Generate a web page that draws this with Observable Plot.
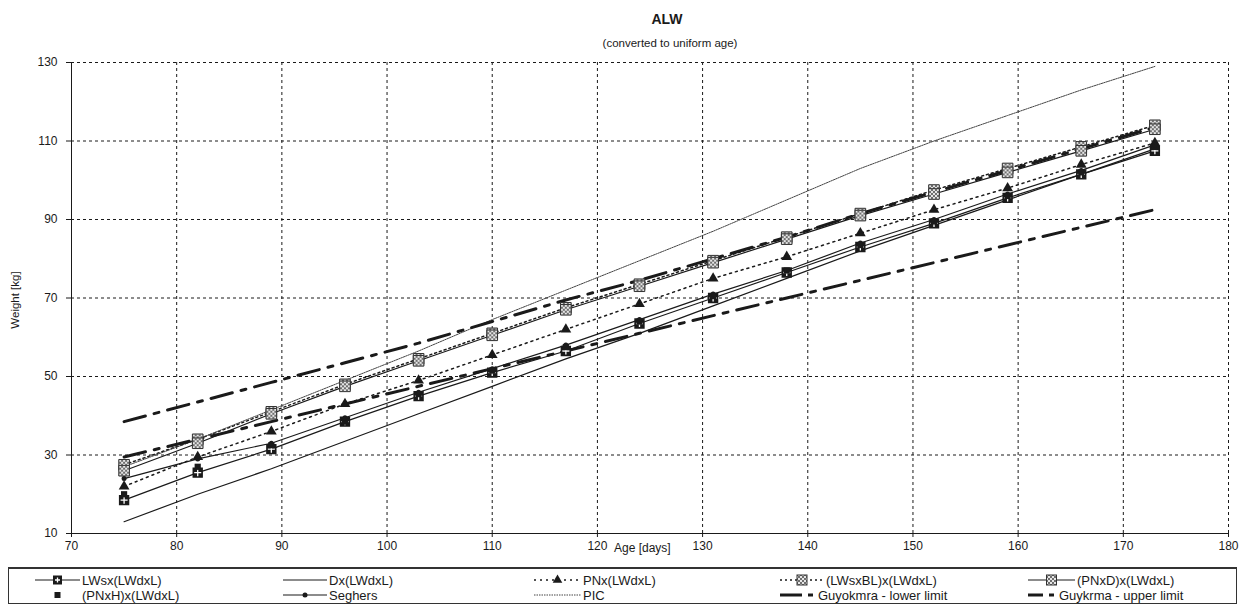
<!DOCTYPE html>
<html><head><meta charset="utf-8">
<script src="https://cdn.jsdelivr.net/npm/d3@7"></script>
<script src="https://cdn.jsdelivr.net/npm/@observablehq/plot@0.6"></script>
<style>
body{margin:0;background:#fff;font-family:"Liberation Sans",Arial,sans-serif;color:#1a1a1a;}
#wrap{position:relative;width:1242px;height:605px;overflow:hidden;background:#fff;}
#chart{position:absolute;left:0;top:0;}
.abs{position:absolute;white-space:nowrap;}
#title{left:667px;top:11px;transform:translateX(-50%);font-weight:bold;font-size:14px;}
#subtitle{left:670px;top:37px;transform:translateX(-50%);font-size:11.5px;}
#ylabel{left:15px;top:300px;transform:translate(-50%,-50%) rotate(-90deg);font-size:11.5px;}
#xlabel{left:614px;top:541px;font-size:12px;}
#legend{position:absolute;left:8px;top:567px;width:1229px;height:37px;box-sizing:border-box;border:1px solid #333;border-top:2px solid #333;}
</style></head><body>
<div id="wrap">
  <div id="chart"></div>
  <div class="abs" id="title">ALW</div>
  <div class="abs" id="subtitle">(converted to uniform age)</div>
  <div class="abs" id="ylabel">Weight [kg]</div>
  <div class="abs" id="xlabel">Age [days]</div>
  <div id="legend"></div>
</div>
<script>
// ---- data ----
const ages = [75, 82, 89, 96, 103, 110, 117, 124, 131, 138, 145, 152, 159, 166, 173];
const lwsx    = [18.5, 25.5, 31.5, 38.5, 45, 51, 56.5, 63.5, 70, 76.5, 83, 89, 95.5, 101.5, 107.5];
const dx      = [13, 20, 26.5, 33.5, 40.5, 47.5, 54.5, 61, 68, 75, 82, 88.5, 95, 101.5, 108];
const pnx     = [22, 29.5, 36, 43, 49, 55.5, 62, 68.5, 75, 80.5, 86.5, 92.5, 98, 104, 109.5];
const lwsxbl  = [27.5, 34, 41, 48, 54.5, 61, 67.5, 73.5, 79.5, 85.5, 91.5, 97.5, 103, 108.5, 114];
const pnxd    = [26, 33, 40.5, 47.5, 54, 60.5, 67, 73, 79, 85, 91, 96.5, 102, 107.5, 113];
const pnxh    = [20, 27, 32.5, 38.5, 45.5, 51.5, 57.5, 64, 70.5, 77, 83.5, 89.5, 96, 102, 108.5];
const seghers = [24, 29, 33, 39.5, 46, 52, 58, 64.5, 71, 77, 84, 90, 96.5, 102.5, 109];
const pic     = [27, 34, 41.5, 49, 56.5, 64.5, 72, 79.5, 87, 95, 103, 110, 116.5, 123, 129];
const lowerLimit = [29.5, 34, 38.5, 43, 47.5, 52, 56.5, 61, 65.5, 70, 74.5, 79, 83.5, 88, 92.5];
const upperLimit = [38.5, 43.5, 48.5, 53.5, 58.5, 64, 69.5, 74.5, 80, 85.5, 91.5, 97, 102.5, 108, 113.5];
const xTicks = [70, 80, 90, 100, 110, 120, 130, 140, 150, 160, 170, 180];
const yTicks = [10, 30, 50, 70, 90, 110, 130];
const seriesNames = ["LWsx(LWdxL)", "Dx(LWdxL)", "PNx(LWdxL)", "(LWsxBL)x(LWdxL)", "(PNxD)x(LWdxL)",
  "(PNxH)x(LWdxL)", "Seghers", "PIC", "Guyokmra - lower limit", "Guykrma - upper limit"];
const seriesValues = [lwsx, dx, pnx, lwsxbl, pnxd, pnxh, seghers, pic, lowerLimit, upperLimit];

// ---- styles ----
const INK = "#1a1a1a";
const styles = {
  "LWsx(LWdxL)": {line: {stroke: INK, strokeWidth: 1.2}, marker: "plusSquare"},
  "Dx(LWdxL)": {line: {stroke: INK, strokeWidth: 1.2}},
  "PNx(LWdxL)": {line: {stroke: INK, strokeWidth: 1.5, strokeDasharray: "2,4"}, marker: "triangle"},
  "(LWsxBL)x(LWdxL)": {line: {stroke: INK, strokeWidth: 1.5, strokeDasharray: "2,3"}, marker: "hatch"},
  "(PNxD)x(LWdxL)": {line: {stroke: INK, strokeWidth: 1.2}, marker: "hatch"},
  "(PNxH)x(LWdxL)": {marker: "square"},
  "Seghers": {line: {stroke: INK, strokeWidth: 1.2}, marker: "circle"},
  "PIC": {line: {stroke: "#444", strokeWidth: 1, strokeDasharray: "1.5,1"}},
  "Guyokmra - lower limit": {line: {stroke: INK, strokeWidth: 3, strokeDasharray: "22,9,5,9"}},
  "Guykrma - upper limit": {line: {stroke: INK, strokeWidth: 3, strokeDasharray: "22,9,5,9"}}
};

const rows = [];
seriesNames.forEach((name, i) => ages.forEach((a, j) => rows.push({series: name, age: a, weight: seriesValues[i][j]})));
const of = name => rows.filter(d => d.series === name);

const marks = [
  Plot.gridX(xTicks, {stroke: INK, strokeOpacity: 1, strokeDasharray: "3,3", strokeWidth: 1}),
  Plot.gridY(yTicks, {stroke: INK, strokeOpacity: 1, strokeDasharray: "3,3", strokeWidth: 1}),
  Plot.ruleX([70], {stroke: INK}),
  Plot.ruleY([10], {stroke: INK}),
  Plot.axisX(xTicks, {tickSize: 4, tickPadding: 4, fontSize: 12, label: null, fill: INK, stroke: INK}),
  Plot.axisY(yTicks, {tickSize: 5, tickPadding: 9, fontSize: 12, label: null, fill: INK, stroke: INK})
];
for (const name of seriesNames) {
  const s = styles[name];
  if (s.line) marks.push(Plot.line(of(name), {x: "age", y: "weight", ...s.line}));
}
for (const name of seriesNames) {
  const s = styles[name], d = of(name);
  if (s.marker === "plusSquare") {
    marks.push(Plot.dot(d, {x: "age", y: "weight", symbol: "square", r: 5, fill: INK, stroke: INK}));
    marks.push(Plot.dot(d, {x: "age", y: "weight", symbol: "plus", r: 2.4, stroke: "white", strokeWidth: 1.3}));
  } else if (s.marker === "triangle") {
    marks.push(Plot.dot(d, {x: "age", y: "weight", symbol: "triangle", r: 4, fill: INK, stroke: "none"}));
  } else if (s.marker === "hatch") {
    marks.push(Plot.dot(d, {x: "age", y: "weight", symbol: "square", r: 6, fill: "url(#hatch)", stroke: "#333", strokeWidth: 1}));
  } else if (s.marker === "square") {
    marks.push(Plot.dot(d, {x: "age", y: "weight", symbol: "square", r: 3.5, fill: INK, stroke: "none"}));
  } else if (s.marker === "circle") {
    marks.push(Plot.dot(d, {x: "age", y: "weight", r: 2.5, fill: INK, stroke: "none"}));
  }
}

const chart = Plot.plot({
  width: 1242, height: 560,
  marginLeft: 71, marginRight: 14, marginTop: 62, marginBottom: 27,
  style: {fontFamily: '"Liberation Sans", Arial, sans-serif', color: INK, background: "white"},
  x: {domain: [70, 180]},
  y: {domain: [10, 130]},
  marks
});
function addHatch(svgSel) {
  const defs = svgSel.insert("defs", ":first-child");
  const p = defs.append("pattern").attr("id", "hatch").attr("patternUnits", "userSpaceOnUse")
    .attr("width", 4).attr("height", 4);
  p.append("rect").attr("width", 4).attr("height", 4).attr("fill", "#6e6e6e");
  p.append("path").attr("d", "M0,0L4,4M4,0L0,4").attr("stroke", "#e6e6e6").attr("stroke-width", 1);
}
addHatch(d3.select(chart));
document.getElementById("chart").appendChild(chart);

// ---- legend ----
const lg = d3.select("#legend").append("svg").attr("width", 1227).attr("height", 34)
  .style("display", "block");
addHatch(lg);
const colSym = [26, 274, 525, 771, 1019];
const colText = [[73, 320, 574, 817, 1068], [73, 320, 574, 809, 1050]];
const rowY = [11, 26];
seriesNames.forEach((name, i) => {
  const col = i % 5, row = Math.floor(i / 5);
  const s = styles[name];
  const isGuy = name.startsWith("Guy");
  const x0 = colSym[col];
  const tx = colText[row][col];
  const x1 = tx - 2;
  const y = rowY[row];
  const g = lg.append("g");
  if (s.line) {
    if (isGuy) {
      g.append("line").attr("x1", x0).attr("x2", tx - 16).attr("y1", y).attr("y2", y)
        .attr("stroke", INK).attr("stroke-width", 3);
      g.append("line").attr("x1", tx - 10).attr("x2", tx - 5).attr("y1", y).attr("y2", y)
        .attr("stroke", INK).attr("stroke-width", 3);
    } else {
      g.append("line").attr("x1", x0).attr("x2", x1).attr("y1", y).attr("y2", y)
        .attr("stroke", s.line.stroke).attr("stroke-width", Math.min(s.line.strokeWidth, 1.3))
        .attr("stroke-dasharray", s.line.strokeDasharray || null);
    }
  }
  const cx = (x0 + x1) / 2;
  if (s.marker === "plusSquare") {
    g.append("rect").attr("x", cx - 4.5).attr("y", y - 4.5).attr("width", 9).attr("height", 9).attr("fill", INK);
    g.append("path").attr("d", `M${cx - 2.5},${y}H${cx + 2.5}M${cx},${y - 2.5}V${y + 2.5}`).attr("stroke", "white").attr("stroke-width", 1.3);
  } else if (s.marker === "triangle") {
    g.append("path").attr("d", d3.symbol(d3.symbolTriangle, 40)()).attr("transform", `translate(${cx},${y})`).attr("fill", INK);
  } else if (s.marker === "hatch") {
    g.append("rect").attr("x", cx - 5).attr("y", y - 5).attr("width", 10).attr("height", 10).attr("fill", "url(#hatch)").attr("stroke", "#333");
  } else if (s.marker === "square") {
    g.append("rect").attr("x", cx - 3).attr("y", y - 3).attr("width", 6).attr("height", 6).attr("fill", INK);
  } else if (s.marker === "circle") {
    g.append("circle").attr("cx", cx).attr("cy", y).attr("r", 2.5).attr("fill", INK);
  }
  g.append("text").attr("x", tx).attr("y", y).attr("dy", "0.35em")
    .attr("font-size", 13).attr("fill", INK).attr("font-family", '"Liberation Sans", Arial, sans-serif')
    .text(name);
});
</script>
</body></html>
